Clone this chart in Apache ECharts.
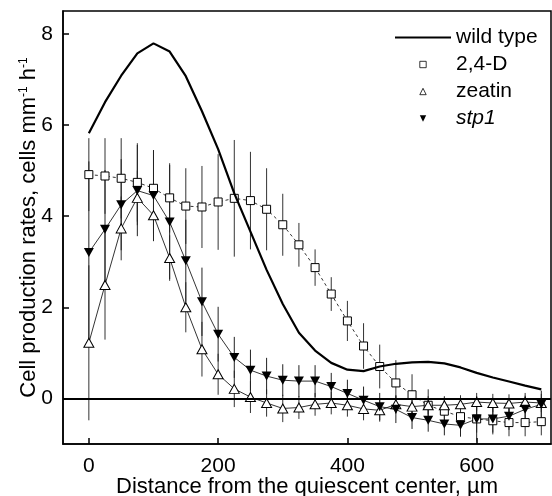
<!DOCTYPE html>
<html>
<head>
<meta charset="utf-8">
<script src="https://cdn.jsdelivr.net/npm/echarts@6/dist/echarts.min.js"></script>
<style>html,body{margin:0;padding:0;background:#fff;}#c{width:552px;height:496px;}</style>
</head>
<body>
<div id="c"></div>
<script>
const distances = [0,25,50,75,100,125,150,175,200,225,250,275,300,325,350,375,400,425,450,475,500,525,550,575,600,625,650,675,700];
const wildType = [5.82,6.5,7.08,7.57,7.79,7.61,7.07,6.3,5.47,4.5,3.66,2.82,2.07,1.44,1.05,0.78,0.63,0.6,0.7,0.76,0.79,0.8,0.77,0.68,0.56,0.46,0.37,0.28,0.2];
const d24 = [4.91,4.88,4.83,4.74,4.61,4.40,4.22,4.20,4.31,4.39,4.34,4.15,3.81,3.37,2.87,2.29,1.70,1.15,0.70,0.34,0.08,-0.15,-0.28,-0.40,-0.45,-0.49,-0.53,-0.53,-0.51];
const d24Err = [0.8,0.83,0.88,0.86,0.83,0.76,0.83,0.9,1.05,1.28,1.07,0.9,0.68,0.48,0.4,0.37,0.44,0.5,0.48,0.5,0.45,0.35,0.3,0.3,0.3,0.3,0.3,0.3,0.3];
const zeatin = [1.22,2.49,3.73,4.40,4.02,3.08,2.0,1.08,0.53,0.21,0.03,-0.1,-0.22,-0.2,-0.13,-0.1,-0.15,-0.23,-0.26,-0.13,-0.18,-0.15,-0.15,-0.13,-0.08,-0.1,-0.11,-0.08,-0.1];
const zeatinErr = [1.7,1.2,0.7,0.6,0.4,0.5,0.55,0.6,0.45,0.4,0.35,0.3,0.3,0.25,0.25,0.25,0.25,0.25,0.25,0.2,0.2,0.2,0.2,0.2,0.2,0.2,0.2,0.2,0.2];
const stp1 = [3.2,3.71,4.25,4.56,4.45,3.87,3.02,2.12,1.41,0.9,0.62,0.49,0.40,0.38,0.38,0.26,0.11,-0.04,-0.18,-0.24,-0.42,-0.48,-0.56,-0.59,-0.45,-0.45,-0.39,-0.24,-0.13];
const stp1Err = [2.0,1.3,1.0,1.0,1.0,1.25,0.9,0.75,0.6,0.45,0.45,0.4,0.35,0.35,0.35,0.3,0.3,0.3,0.3,0.3,0.25,0.25,0.25,0.25,0.5,0.3,0.3,0.3,0.3];
const xTicks = [0,200,400,600];
const yTicks = [0,2,4,6,8];

const FONT = 'Liberation Sans';
const pairs = (ys) => distances.map((x, i) => [x, ys[i]]);
const errData = (ys, es) => distances.map((x, i) => [x, ys[i] - es[i], ys[i] + es[i]]);
function errSeries(ys, es, color) {
  return {
    type: 'custom', silent: true, z: 1,
    data: errData(ys, es),
    encode: {x: 0, y: [1, 2]},
    renderItem: function (params, api) {
      const lo = api.coord([api.value(0), api.value(1)]);
      const hi = api.coord([api.value(0), api.value(2)]);
      return {type: 'line', shape: {x1: lo[0], y1: lo[1], x2: hi[0], y2: hi[1]},
        style: {stroke: color, lineWidth: 1}};
    }
  };
}

const chart = echarts.init(document.getElementById('c'), null, {renderer: 'canvas'});
chart.setOption({
  animation: false,
  backgroundColor: '#fff',
  textStyle: {fontFamily: FONT},
  grid: {left: 63, top: 11, right: 1, bottom: 52, containLabel: false, outerBoundsMode: 'none',
    show: true, borderColor: '#000', borderWidth: 1.5},
  legend: {
    orient: 'vertical', left: 389, top: 22, itemWidth: 56, itemHeight: 8, itemGap: 6,
    textStyle: {fontFamily: FONT, fontSize: 21, color: '#000'},
    selectedMode: false,
    data: [
      {name: 'wild type', itemStyle: {opacity: 0}},
      {name: '2,4-D', lineStyle: {opacity: 0}, itemStyle: {borderWidth: 0.8}},
      {name: 'zeatin', lineStyle: {opacity: 0}, itemStyle: {borderWidth: 0.8}},
      {name: 'stp1', lineStyle: {opacity: 0}, textStyle: {fontStyle: 'italic'}}
    ]
  },
  xAxis: {
    type: 'value', min: -40, max: 715,
    name: 'Distance from the quiescent center, \u00b5m', nameLocation: 'middle', nameGap: 32, nameMoveOverlap: false,
    nameTextStyle: {fontFamily: FONT, fontSize: 22, color: '#000'},
    axisLine: {show: true, onZero: false, lineStyle: {color: '#000', width: 1.5}},
    axisTick: {show: true, inside: true, length: 6, customValues: xTicks, lineStyle: {color: '#000', width: 1.5}},
    axisLabel: {customValues: xTicks, fontFamily: FONT, fontSize: 21, color: '#000', margin: 12},
    splitLine: {show: false}
  },
  yAxis: {
    type: 'value', min: -1, max: 8.5,
    name: 'Cell production rates, cells mm{s|-1} h{s|-1}', nameLocation: 'middle', nameGap: 23, nameRotate: 90, nameMoveOverlap: false,
    nameTextStyle: {fontFamily: FONT, fontSize: 22, color: '#000', rich: {s: {fontFamily: FONT, fontSize: 12, color: '#000', padding: [0, 0, 10, 0]}}},
    axisLine: {show: true, onZero: false, lineStyle: {color: '#000', width: 1.5}},
    axisTick: {show: true, inside: true, length: 6, customValues: yTicks, lineStyle: {color: '#000', width: 1.5}},
    axisLabel: {customValues: yTicks, fontFamily: FONT, fontSize: 21, color: '#000', margin: 10},
    splitLine: {show: false}
  },
  series: [
    errSeries(d24, d24Err, '#333'),
    errSeries(zeatin, zeatinErr, '#333'),
    errSeries(stp1, stp1Err, '#222'),
    {
      name: 'wild type', type: 'line', data: pairs(wildType), showSymbol: false, symbol: 'none', z: 5,
      lineStyle: {color: '#000', width: 2.2}, itemStyle: {color: '#000'},
      markLine: {silent: true, symbol: 'none', label: {show: false}, animation: false,
        lineStyle: {color: '#000', width: 1.8, type: 'solid'}, data: [{yAxis: 0}]}
    },
    {
      name: '2,4-D', type: 'line', data: pairs(d24), symbol: 'rect', symbolSize: 8, z: 4,
      lineStyle: {color: '#000', width: 0.8, type: [3, 3]}, itemStyle: {color: '#fff', borderColor: '#000', borderWidth: 1}
    },
    {
      name: 'zeatin', type: 'line', data: pairs(zeatin), symbol: 'triangle', symbolSize: [10, 9], z: 4,
      lineStyle: {color: '#000', width: 0.8}, itemStyle: {color: '#fff', borderColor: '#000', borderWidth: 1}
    },
    {
      name: 'stp1', type: 'line', data: pairs(stp1), symbol: 'triangle', symbolRotate: 180, symbolSize: [10, 9], z: 4,
      lineStyle: {color: '#000', width: 0.8}, itemStyle: {color: '#000'}
    }
  ]
});
</script>
</body>
</html>
